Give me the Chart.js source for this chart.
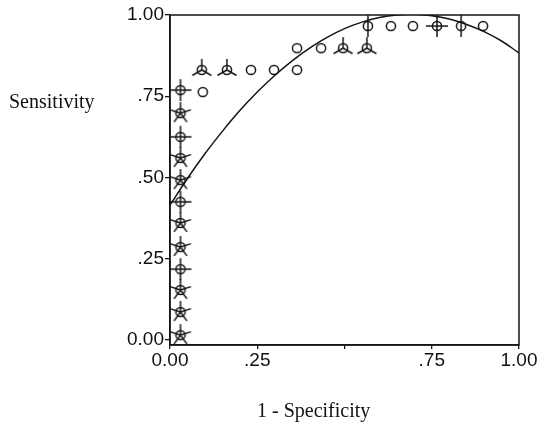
<!DOCTYPE html>
<html>
<head>
<meta charset="utf-8">
<script src="https://cdn.jsdelivr.net/npm/chart.js@4/dist/chart.umd.min.js"></script>
<style>
  html, body { margin: 0; padding: 0; background: #fff; }
  #wrap { position: relative; width: 544px; height: 425px; }
  .ttl { position: absolute; font-family: "Liberation Serif", "Times New Roman", serif; font-size: 20px; line-height: 20px; color: #111; white-space: nowrap; }
</style>
</head>
<body>
<div id="wrap">
  <canvas id="c" width="544" height="425"></canvas>
  <div class="ttl" id="ytitle" style="left:9px; top:91px;">Sensitivity</div>
  <div class="ttl" id="xtitle" style="left:257px; top:400px;">1 - Specificity</div>
</div>
<script>
// ---- Data ----
const xTickValues = [0, 0.25, 0.5, 0.75, 1];
const xTickLabels = ['0.00', '.25', '', '.75', '1.00'];
const yTickValues = [0, 0.25, 0.5, 0.75, 1];
const yTickLabels = ['0.00', '.25', '.50', '.75', '1.00'];

// plain circles (single case)
const p0X = [0.094, 0.232, 0.298, 0.364, 0.364, 0.433, 0.633, 0.696, 0.897];
const p0Y = [0.763, 0.831, 0.831, 0.831, 0.898, 0.898, 0.966, 0.966, 0.966];
// sunflowers with 2 petals
const p2X = [0.567, 0.834];
const p2Y = [0.966, 0.966];
// sunflowers with 3 petals
const p3X = [0.091, 0.163, 0.496, 0.564];
const p3Y = [0.831, 0.831, 0.898, 0.898];
// sunflowers with 4 petals
const p4X = [0.03, 0.03, 0.03, 0.03, 0.765];
const p4Y = [0.769, 0.625, 0.425, 0.218, 0.966];
// sunflowers with 5 petals
const p5X = [0.03, 0.03, 0.03, 0.03, 0.03, 0.03, 0.03, 0.03];
const p5Y = [0.698, 0.560, 0.492, 0.360, 0.286, 0.154, 0.086, 0.015];

// fitted curve
const curveX = [0, 0.05, 0.1, 0.15, 0.2, 0.25, 0.3, 0.35, 0.4, 0.45, 0.5, 0.55, 0.6, 0.65, 0.7, 0.75, 0.8, 0.85, 0.9, 0.95, 1.0];
const curveY = [0.415, 0.497, 0.573, 0.642, 0.706, 0.763, 0.814, 0.859, 0.898, 0.931, 0.958, 0.978, 0.992, 1.0, 1.002, 0.998, 0.988, 0.971, 0.949, 0.920, 0.883];

function pts(xs, ys) { return xs.map((x, i) => ({ x: x, y: ys[i] })); }

function makeMarker(angles) {
  const s = 28, c = s / 2;
  const cv = document.createElement('canvas');
  cv.width = s; cv.height = s;
  const g = cv.getContext('2d');
  g.strokeStyle = '#151515';
  g.lineWidth = 1.5;
  g.beginPath();
  g.arc(c, c, 4.6, 0, Math.PI * 2);
  g.stroke();
  angles.forEach(a => {
    const r = a * Math.PI / 180;
    g.beginPath();
    g.moveTo(c, c);
    g.lineTo(c + 11 * Math.cos(r), c - 11 * Math.sin(r));
    g.stroke();
  });
  return cv;
}

const m0 = makeMarker([]);
const m2 = makeMarker([90, 270]);
const m3 = makeMarker([90, 210, 330]);
const m4 = makeMarker([0, 90, 180, 270]);
const m5 = makeMarker([90, 162, 234, 306, 18]);

function markerSet(data, img) {
  return {
    type: 'scatter', data: data, showLine: false,
    pointStyle: img, pointRadius: 5, pointHoverRadius: 5,
    borderColor: '#151515', backgroundColor: 'transparent'
  };
}

const framePlugin = {
  id: 'frame',
  afterDraw(chart) {
    const a = chart.chartArea, ctx = chart.ctx;
    ctx.save();
    ctx.strokeStyle = '#151515';
    ctx.lineWidth = 1.5;
    ctx.strokeRect(a.left, a.top, a.right - a.left, a.bottom - a.top);
    ctx.restore();
  }
};

new Chart(document.getElementById('c'), {
  type: 'scatter',
  data: {
    datasets: [
      {
        type: 'line', data: pts(curveX, curveY), borderColor: '#151515', borderWidth: 1.5,
        pointRadius: 0, tension: 0.4, fill: false
      },
      markerSet(pts(p0X, p0Y), m0),
      markerSet(pts(p2X, p2Y), m2),
      markerSet(pts(p3X, p3Y), m3),
      markerSet(pts(p4X, p4Y), m4),
      markerSet(pts(p5X, p5Y), m5)
    ]
  },
  options: {
    responsive: false,
    animation: false,
    events: [],
    layout: { padding: { top: 15, right: 25, bottom: 0, left: 0 } },
    plugins: { legend: { display: false }, tooltip: { enabled: false } },
    scales: {
      x: {
        type: 'linear', position: 'bottom', min: 0, max: 1,
        afterBuildTicks: s => { s.ticks = xTickValues.map(v => ({ value: v })); },
        afterFit: s => { s.height = 80; },
        ticks: {
          autoSkip: false, maxRotation: 0, padding: 0, color: '#111',
          font: { family: 'Liberation Sans, Arial, sans-serif', size: 19 },
          callback: v => { const i = xTickValues.indexOf(v); return i >= 0 ? xTickLabels[i] : ''; }
        },
        grid: { drawOnChartArea: false, drawTicks: true, tickLength: 4, color: '#151515', lineWidth: 1.3 },
        border: { display: true, color: '#151515', width: 1.5 }
      },
      y: {
        type: 'linear', position: 'left', min: -0.0154, max: 1,
        afterBuildTicks: s => { s.ticks = yTickValues.map(v => ({ value: v })); },
        afterFit: s => { s.width = 170; },
        ticks: {
          autoSkip: false, padding: 1, color: '#111',
          font: { family: 'Liberation Sans, Arial, sans-serif', size: 19 },
          callback: v => { const i = yTickValues.indexOf(v); return i >= 0 ? yTickLabels[i] : ''; }
        },
        grid: { drawOnChartArea: false, drawTicks: true, tickLength: 5, color: '#151515', lineWidth: 1.3 },
        border: { display: true, color: '#151515', width: 1.5 }
      }
    }
  },
  plugins: [framePlugin]
});
</script>
</body>
</html>
